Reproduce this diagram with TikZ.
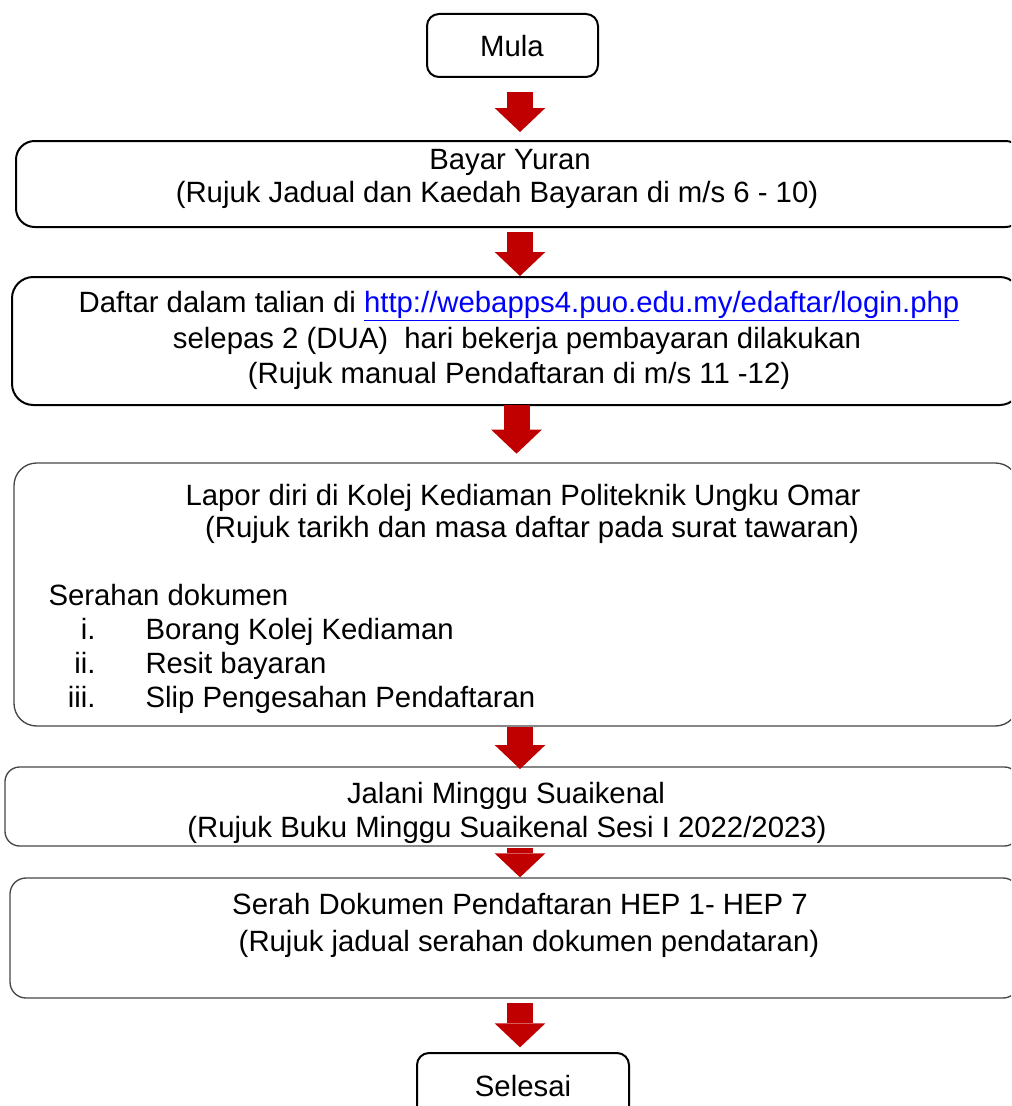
\documentclass[tikz,border=0pt]{standalone}
\usepackage{fontspec}
\setmainfont{Liberation Sans}
\usetikzlibrary{arrows.meta,fit}
\definecolor{arrowred}{RGB}{192,0,0}
\definecolor{linkblue}{RGB}{0,0,255}
\definecolor{boxgrey}{RGB}{70,70,70}
\tikzset{every picture/.style={line width=0.75pt}}
\tikzset{
  stepbox/.style={draw, inner sep=0pt, line width=1.5},
  softbox/.style={draw=boxgrey, inner sep=0pt, line width=1},
  txt/.style={anchor=base, inner sep=0pt, font=\fontsize{22}{26}\selectfont},
  flow/.style={draw=arrowred, line width=19.5pt, -{Triangle[width=38pt,length=18pt,line width=0pt]}}
}
\begin{document}
\begin{tikzpicture}[x=0.75pt,y=0.75pt,yscale=-1,xscale=1]
\useasboundingbox (0,0) rectangle (1011,1106);
\clip (0,0) rectangle (1011,1106);

\node [stepbox, rounded corners=9pt, fit={(427,14) (598,77)}] (b1) {};
\node [stepbox, rounded corners=14pt, fit={(16,141) (1024,227)}] (b2) {};
\node [stepbox, rounded corners=16pt, fit={(12,277) (1021,405)}] (b3) {};
\node [softbox, rounded corners=17pt, fit={(14,463) (1018,726)}] (b4) {};
\node [softbox, rounded corners=11pt, fit={(5,767) (1019,846)}] (b5) {};
\node [softbox, rounded corners=12pt, fit={(10,878) (1019,998)}] (b6) {};
\node [stepbox, rounded corners=9pt, fit={(417,1053) (629,1125)}] (b7) {};

\node [txt] (t1) at (512,57) {Mula};
\node [txt] (t2a) at (510,169) {Bayar Yuran};
\node [txt] (t2b) at (497,202) {(Rujuk Jadual dan Kaedah Bayaran di m/s 6 - 10)};
\node [txt] (t3a) at (519,312) {Daftar dalam talian di \textcolor{linkblue}{\underline{http://webapps4.puo.edu.my/edaftar/login.php}}};
\node [txt] (t3b) at (517,348) {selepas 2 (DUA)~ hari bekerja pembayaran dilakukan};
\node [txt] (t3c) at (519,383) {(Rujuk manual Pendaftaran di m/s 11 -12)};
\node [txt] (t4a) at (523,505) {Lapor diri di Kolej Kediaman Politeknik Ungku Omar};
\node [txt] (t4b) at (532,537) {(Rujuk tarikh dan masa daftar pada surat tawaran)};
\node [txt, anchor=base west] (t4c) at (48,605) {Serahan dokumen};
\foreach \rn/\lbl [count=\k] in {i./Borang Kolej Kediaman, ii./Resit bayaran, iii./Slip Pengesahan Pendaftaran}{
  \node [txt, anchor=base east] (n\k) at (96,{605+34.3*\k}) {\rn};
  \node [txt, anchor=base west] (i\k) at (145,{605+34.3*\k}) {\lbl};
}
\node [txt] (t5a) at (506,803) {Jalani Minggu Suaikenal};
\node [txt] (t5b) at (507,837) {(Rujuk Buku Minggu Suaikenal Sesi I 2022/2023)};
\node [txt] (t6a) at (520,914) {Serah Dokumen Pendaftaran HEP 1- HEP 7};
\node [txt] (t6b) at (529,951) {(Rujuk jadual serahan dokumen pendataran)};
\node [txt] (t7) at (523,1096) {Selesai};

\coordinate (a1) at (520,92);
\coordinate (a2) at (520,232);
\coordinate (a3) at (516.5,405);
\coordinate (a4) at (520,727);
\coordinate (a5) at (520,848);
\coordinate (a6) at (520,1003);

\draw [flow, shorten >=6pt] (a1) -- (a1 |- b2.north);
\draw [flow] (a2) -- (a2 |- b3.north);
\draw [flow, shorten >=6.5pt] (a3) -- (a3 |- b4.north);
\draw [flow, shorten >=-2pt] (a4) -- (a4 |- b5.north);
\draw [flow] (a5) -- (a5 |- b6.north);
\draw [flow, shorten >=3.5pt] (a6) -- (a6 |- b7.north);

\end{tikzpicture}
\end{document}
